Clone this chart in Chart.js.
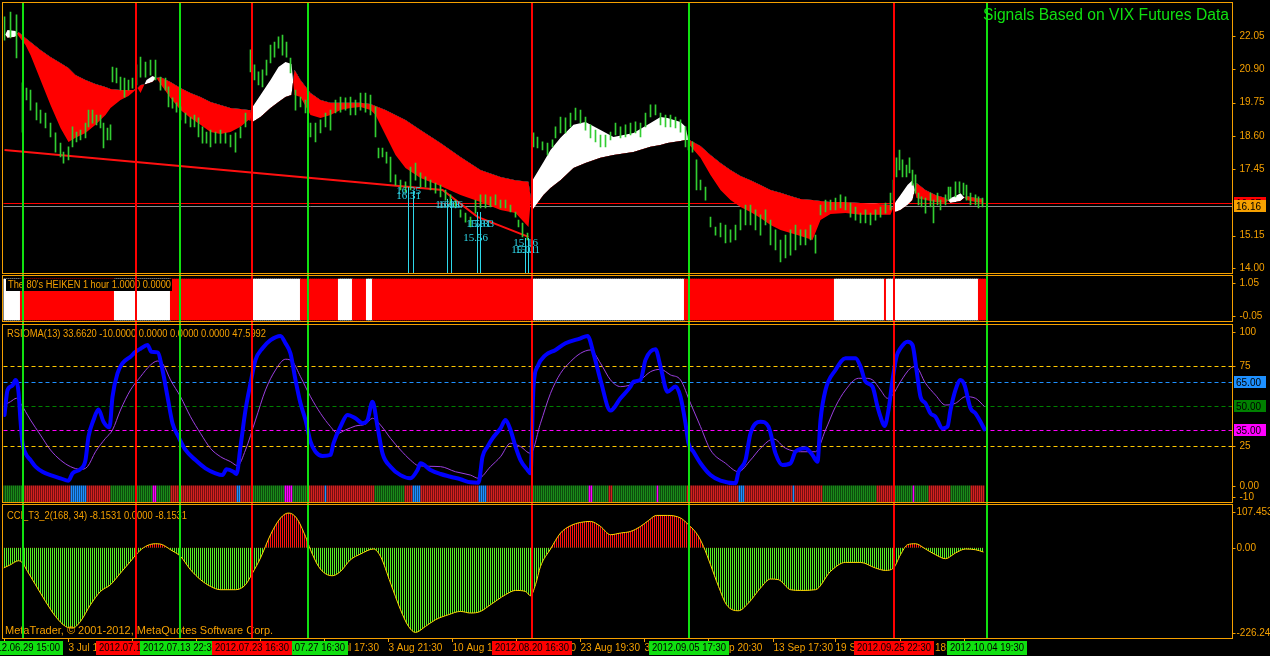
<!DOCTYPE html>
<html>
<head>
<meta charset="utf-8">
<title>VIX Futures Signals</title>
<script src="https://cdn.jsdelivr.net/npm/chart.js@4.4.1/dist/chart.umd.min.js"></script>
<style>
  html, body { margin: 0; padding: 0; background: #000; }
  #wrap { position: relative; width: 1270px; height: 656px; background: #000; overflow: hidden; }
  #wrap canvas { position: absolute; left: 0; }
</style>
</head>
<body>
<div id="wrap">
  <canvas id="mainChart" width="1270" height="275" style="top:0px"></canvas>
  <canvas id="haChart" width="1270" height="49" style="top:275px"></canvas>
  <canvas id="rsiChart" width="1270" height="180" style="top:324px"></canvas>
  <canvas id="cciChart" width="1270" height="152" style="top:504px"></canvas>
</div>
<script>
// ---- data (x = bar index, 2px per bar) ----

// signal lines, in the order their date boxes are painted
const signalBars = [66, 9.5, 88, 152, 124, 264, 342.5, 445, 491.5];
const signalTypes = ['sell', 'buy', 'buy', 'buy', 'sell', 'sell', 'buy', 'sell', 'buy'];
const signalLabels = ['2012.07.10 21:30', '2012.06.29 15:00', '2012.07.13 22:30', '2012.07.27 16:30',
  '2012.07.23 16:30', '2012.08.20 16:30', '2012.09.05 17:30', '2012.09.25 22:30', '2012.10.04 19:30'];

// time axis
const timeTicks = [0, 32, 64, 96, 128, 160, 192, 224, 256, 288, 320, 352, 384.5, 416, 448, 480];
const timeLabels = ['29 Jun 2012', '3 Jul 19:30', '10 Jul 17:30', '16 Jul 15:30', '24 Jul 20:30', '30 Jul 17:30',
  '3 Aug 21:30', '10 Aug 18:30', '17 Aug 16:30', '23 Aug 19:30', '30 Aug 15:30', '6 Sep 20:30',
  '13 Sep 17:30', '19 Sep 18:30', '26 Sep 18:30', '3 Oct 16:30'];

// main panel ticks
const priceTicks = [22.05, 20.90, 19.75, 18.60, 17.45, 15.15, 14.00];
const bidPrice = 16.16;
const askPrice = 16.27;

// price bars [bar, high, low]
const priceBars = [
  [0.5,22.71,21.91],[3.5,22.88,21.98],[6.5,22.78,21.29],[9.5,20.43,18.73],[11.5,20.25,19.84],[13.5,20.18,19.49],
  [16.5,19.74,19.15],[18.5,19.49,19.04],[21,19.39,18.87],[23.5,19.04,18.56],[26,18.70,18.04],[28.5,18.35,17.87],
  [30,18.04,17.66],[32.5,18.22,17.77],[34.5,18.91,18.22],[36.5,18.73,18.39],[38.5,18.80,18.46],[41,19.04,18.53],
  [42.5,19.49,18.91],[44.5,19.49,19.04],[46.5,19.32,18.98],[48.5,19.32,18.87],[50,19.04,18.18],[52,18.87,18.46],
  [53.5,18.98,18.46],[54.5,20.98,20.46],[56.5,20.94,20.43],[58.5,20.63,20.18],[60.5,20.60,19.94],[62.5,20.53,20.18],
  [64.5,20.60,20.25],[66.5,21.05,20.36],[68.5,21.32,20.63],[71,21.15,20.63],[73.5,21.22,20.70],[76,21.22,20.53],
  [78.5,20.63,20.18],[81,20.60,20.18],[82.5,20.29,19.60],[84.5,19.91,19.56],[86.5,19.74,19.42],[88.5,19.60,19.15],
  [91,19.39,19.04],[93.5,19.25,18.91],[95.5,19.32,18.91],[97.5,19.22,18.56],[99.5,18.91,18.35],[101.5,18.73,18.35],
  [103.5,18.80,18.22],[106,18.73,18.35],[108.5,18.80,18.35],[111,18.70,18.35],[113.5,18.63,18.22],[116,18.70,18.04],
  [118.5,18.91,18.53],[121,19.39,18.91],[123.5,21.57,20.81],[125.5,21.05,20.53],[127.5,20.81,20.36],[129.5,20.88,20.29],
  [131.5,21.22,20.70],[133.5,21.74,21.12],[135.5,21.84,21.32],[137.5,22.02,21.63],[139.5,22.08,21.39],[141.5,21.84,21.32],
  [143.5,21.29,20.77],[146,20.18,19.49],[148.5,19.94,19.60],[151,19.84,19.39],[153.5,19.04,18.56],[156,19.04,18.39],
  [158.5,19.15,18.70],[161,19.39,18.91],[163.5,19.49,18.80],[166,19.84,19.39],[168.5,19.94,19.42],[171,19.91,19.49],
  [173.5,19.94,19.32],[176,19.84,19.32],[178.5,20.08,19.49],[181,20.08,19.42],[183.5,20.01,19.32],[186,19.60,18.56],
  [187.5,18.18,17.84],[189.5,18.18,17.87],[191.5,18.04,17.66],[193.5,17.87,17.01],[196,17.25,16.90],[198.5,17.07,16.73],
  [201,17.01,16.66],[203.5,17.52,16.73],[206,17.66,17.07],[208.5,17.32,16.83],[211,17.18,16.83],[213.5,17.07,16.73],
  [216,16.97,16.62],[218.5,16.90,16.49],[221,16.73,16.38],[223.5,16.56,16.21],[226,16.38,16.11],[228.5,16.04,15.79],
  [231,15.93,15.62],[233.5,15.79,15.45],[236,16.38,15.93],[238.5,16.56,16.11],[241,16.56,16.11],[243.5,16.49,16.14],
  [246,16.56,16.21],[248.5,16.38,16.11],[251,16.38,16.11],[253.5,16.21,15.97],[256,15.97,15.79],[257.5,15.69,15.45],
  [259.5,15.59,15.11],[262,15.24,15.00],[265,18.70,18.22],[267,18.56,18.18],[269.5,18.39,18.11],[272,18.35,17.94],
  [274.5,18.46,18.22],[276,18.91,18.53],[278.5,19.25,18.70],[281,19.22,18.70],[283.5,19.39,18.91],[286,19.56,19.15],
  [288.5,19.49,19.04],[291,19.25,18.80],[293.5,18.98,18.53],[296,18.80,18.39],[298.5,18.63,18.22],[301,18.63,18.22],
  [303.5,18.73,18.46],[306,19.04,18.63],[308.5,18.91,18.53],[311,18.98,18.56],[313.5,19.04,18.63],[316,19.08,18.70],
  [318.5,19.04,18.56],[321,19.39,18.91],[323.5,19.67,19.25],[326,19.67,19.32],[328.5,19.39,18.98],[331,19.32,18.91],
  [333.5,19.32,18.91],[336,19.25,18.87],[338.5,19.15,18.73],[341,18.91,18.22],[342.5,18.56,18.11],[344.5,18.39,18.04],
  [346.5,17.77,16.73],[348.5,17.07,16.73],[351,16.83,16.38],[353.5,15.79,15.45],[356,15.45,15.17],[358.5,15.59,15.11],
  [361,15.52,14.90],[363.5,15.35,14.93],[366,15.52,15.00],[368.5,16.04,15.35],[371,16.21,15.52],[373.5,16.21,15.52],
  [376,16.04,15.35],[378.5,15.87,15.17],[381,16.04,15.52],[383.5,15.69,14.83],[386,15.35,14.66],[388.5,15.00,14.24],
  [391,15.17,14.38],[393.5,15.35,14.48],[396,15.52,14.66],[398.5,15.35,14.83],[401,15.35,14.83],[403.5,15.52,15.00],
  [406,15.17,14.55],[408.5,16.21,15.87],[411,16.38,15.97],[413.5,16.38,16.04],[416,16.45,16.04],[418.5,16.56,16.11],
  [421,16.49,16.04],[423.5,16.28,15.79],[426,16.14,15.69],[428.5,15.93,15.59],[431,16.04,15.59],[433.5,15.93,15.52],
  [436,16.04,15.69],[438.5,16.14,15.79],[441,16.28,15.93],[443.5,16.62,16.04],[445,17.07,16.38],[446.5,17.84,17.18],
  [448,18.11,17.42],[449.5,17.77,17.18],[451.5,17.59,17.18],[453,17.84,17.32],[454.5,17.42,16.90],[456,17.25,16.62],
  [457.5,16.62,16.21],[459,16.49,16.14],[461,16.45,15.93],[463.5,16.62,16.14],[465,16.38,15.59],[467,16.62,16.21],
  [468.5,16.38,16.04],[471,16.56,16.21],[472.5,16.83,16.38],[473.5,16.83,16.45],[476,17.01,16.49],[478,17.01,16.62],
  [480,16.97,16.56],[481.5,16.90,16.38],[483.5,16.62,16.21],[486,16.56,16.21],[487.5,16.49,16.11],[489.5,16.45,16.14]
];

// MA ribbon [bar, slow MA, fast MA]
const ribbon = [
  [0.5,22.12,22.05],[2,21.98,22.26],[6,22.02,22.22],[7.5,22.19,22.05],[11,21.98,21.74],[13.5,21.84,21.39],
  [18.5,21.57,20.53],[23.5,21.32,19.67],[28.5,21.12,18.87],[32.5,20.94,18.39],[36,20.70,18.53],[41,20.53,18.70],
  [46,20.39,18.98],[51,20.29,19.32],[53.5,20.22,19.56],[58.5,20.18,19.84],[62.5,20.18,19.98],[65,20.18,20.12],
  [67,20.25,20.25],[68.5,20.36,20.08],[71.5,20.39,20.53],[74.5,20.46,20.67],[76.5,20.60,20.60],[78.5,20.63,20.39],
  [83.5,20.46,19.91],[88.5,20.25,19.49],[93.5,20.08,19.22],[98.5,19.94,18.98],[103.5,19.77,18.73],[108.5,19.67,18.66],
  [113.5,19.56,18.73],[118.5,19.53,18.91],[122.5,19.49,19.15],[123.5,19.49,19.11],[124.5,19.08,19.60],[128.5,19.25,20.01],
  [133.5,19.56,20.53],[137.5,19.77,20.98],[141,19.94,21.15],[144,20.01,21.08],[145.5,20.88,20.01],[148.5,20.53,19.94],
  [153.5,20.08,19.32],[158.5,19.84,19.22],[163.5,19.74,19.32],[168.5,19.74,19.49],[173.5,19.74,19.56],[178.5,19.74,19.60],
  [183.5,19.70,19.49],[186,19.63,19.32],[191,19.49,18.63],[196,19.32,17.94],[201,19.15,17.49],[208.5,18.80,17.14],
  [218.5,18.35,16.87],[228.5,17.87,16.56],[238.5,17.42,16.31],[248.5,17.18,16.04],[256,17.07,15.93],[262.5,17.01,15.45],
  [264.5,16.04,17.07],[270,16.56,17.70],[273.5,16.80,18.11],[278.5,17.07,18.53],[285,17.49,18.98],[291,17.66,19.08],
  [298.5,17.84,18.80],[305,17.94,18.56],[315,18.04,18.70],[323.5,18.22,19.04],[328.5,18.28,19.25],[332,18.35,19.22],
  [338.5,18.42,19.08],[341,18.46,18.91],[343,18.46,18.28],[348.5,18.25,17.84],[353.5,17.94,17.25],[358.5,17.66,16.73],
  [363.5,17.42,16.38],[368.5,17.21,16.14],[373.5,17.07,15.97],[378.5,16.90,15.76],[383.5,16.73,15.52],[388.5,16.63,15.35],
  [393.5,16.52,15.24],[398.5,16.42,15.14],[404.5,16.38,15.00],[408.5,16.35,15.69],[413.5,16.31,15.90],[421,16.31,15.93],
  [428.5,16.28,15.87],[436,16.25,15.87],[443.5,16.21,15.87],[446,15.97,16.31],[448.5,16.04,16.56],[452,16.21,16.90],
  [454.5,16.38,17.07],[456.5,16.97,16.45],[461,16.73,16.38],[466,16.56,16.31],[471,16.45,16.28],[473.5,16.28,16.45],
  [476,16.31,16.52],[478.5,16.35,16.62],[481.5,16.52,16.38],[486,16.45,16.31],[490,16.42,16.28]
];

// trend line [bar, price]
const trendLine = [[0.5,18.11],[219.5,16.73],[237,15.80],[262.5,15.11]];

// fractal lows: marker lines [bar, price] and labels [bar, price, text]
const fractalLines = [[202,16.83],[204.5,16.69],[222,16.42],[223.5,16.42],[236.5,15.97],[238,15.97],[260.5,15.07],[262,15.07]];
const fractalLabels = [[202.5,16.69,'16.35'],[202.5,16.52,'16.31'],[222,16.21,'16.03'],[223.5,16.21,'16.06'],
  [237.5,15.55,'15.81'],[239,15.55,'15.83'],[236,15.07,'15.56'],[261,14.90,'15.16'],[260,14.66,'15.01'],[262,14.66,'15.21']];

// heiken ashi trend switches [bar, 1 = up / 0 = down]
const haSwitches = [[0,1],[8.5,0],[55.5,1],[83.5,0],[124.5,1],[148.5,0],[167.5,1],[174.5,0],[181.5,1],[184.5,0],
  [264.5,1],[340.5,0],[416,1],[440.5,0],[442,1],[487.5,0]];
const haLastBar = 491;
const haTicks = [1.05, -0.05];

// RSIOMA [bar, value]
const rsiMain = [
  [0.5,44.6],[2,60],[4.5,63],[6,66.5],[7.5,59],[8.5,41],[9.5,27],[11,20.6],[13.5,16.4],[16,12.3],[19.5,9.1],[23.5,7],
  [28.5,5],[32.5,3.5],[34.5,8.1],[38.5,10.8],[41,16.4],[42.5,31],[45,41.4],[47.5,48],[50,40.4],[53,36.9],[54.5,56],
  [57,70.6],[59.5,76.9],[63.5,81],[66,84],[68.5,86],[72,88.3],[74,84],[77,83.7],[79.5,72.7],[82,56],[84.5,39.4],
  [87.5,31],[91,22.7],[96,16.4],[101,11.2],[106,8.1],[109.5,7],[111.5,10.6],[115,9.1],[116.5,7.7],[118.5,24.8],
  [121,47.7],[123.5,64.4],[126,79],[129.5,86.3],[133.5,91.4],[138.5,94],[141,89.4],[143.5,83],[146,66.4],[148.5,51.9],
  [151,41.4],[153.5,27.9],[156,21.6],[159.5,19],[163.5,19.6],[165,26.9],[168.5,37.3],[172,44.6],[176,42.5],[179.5,39.4],
  [182,41.4],[184.5,52.9],[187,37.3],[189.5,20.6],[193.5,12.3],[198.5,7],[203.5,5],[207,10.2],[208.5,14.4],[213.5,10.2],
  [218.5,7.7],[223.5,6],[228.5,4.4],[233.5,2.5],[237.5,2.3],[239.5,18.5],[242,24.8],[244.5,30],[248.5,36.2],[251,41.4],
  [253.5,35.2],[256,24.8],[258.5,16.4],[262,10.2],[263.5,8.1],[265,62.3],[267,74.8],[271,82],[276,85.2],[281,89.4],
  [288.5,92.5],[292,94],[295,83.1],[298.5,66.4],[303.5,47.3],[308.5,55],[313.5,62.3],[315,65.4],[318.5,66.5],[321,79],
  [326,85.6],[328.5,74.8],[332,59.1],[336,62.3],[338.5,56],[341,39.4],[342.5,26.9],[345,21.6],[348.5,14.4],[353.5,7],
  [358.5,3.5],[366,1.9],[367.5,9],[371,16.4],[373.5,33.1],[378.5,40.4],[382.5,37.3],[386,20.6],[389.5,13.3],[393.5,14.4],
  [396,21.6],[401,23.8],[404.5,19.6],[407,15.4],[408.5,41.4],[411,60.2],[416,72.7],[421,80],[426,80],[428.5,74.8],
  [431,65.4],[434.5,62.3],[437,49.8],[438.5,43.5],[440.5,37.7],[442.5,47.7],[444.5,66.4],[446.5,81],[448.5,86.3],
  [452,90.4],[454.5,88.3],[456.5,72.7],[458.5,56],[461,51.9],[463.5,45.6],[466,43.5],[469.5,36.2],[472,37.3],[473.5,47.7],
  [476,60.2],[478.5,66.4],[480.5,63.3],[483.5,48.8],[486,45.6],[488.5,40.4],[490.5,35.6]
];
const rsiSignal = [
  [0.5,50.8],[3.5,52.9],[6.5,55],[8.5,51.9],[13.5,41.4],[18.5,32],[23.5,22.7],[28.5,16.4],[33.5,12.3],[38.5,10.6],
  [42,12.3],[46,21.6],[51,30],[54.5,35.2],[58.5,47.7],[63.5,60.2],[68.5,68.5],[73.5,75.8],[77,78.3],[80,75.8],[83.5,66.5],
  [88.5,56],[93.5,43.5],[98.5,33.1],[103.5,23.7],[108.5,18.5],[113.5,15.4],[117,12.9],[121,22.7],[126,41.4],[131,60.2],
  [136,72.7],[141,79.4],[144.5,77.9],[148.5,68.5],[153.5,56],[158.5,45.6],[163.5,37.3],[167,33.1],[171,35.2],[176,37.7],
  [181,38.9],[184.5,42.5],[188.5,38.3],[193.5,30],[198.5,22.7],[203.5,16.4],[207.5,12.9],[218.5,12.3],[226,9.1],
  [233.5,7],[237.5,5],[243.5,12.3],[248.5,18.5],[253.5,26.9],[258.5,24.8],[263.5,20.6],[268.5,39.4],[273.5,58.1],
  [278.5,70.6],[283.5,77.9],[288.5,83.1],[293.5,85.2],[298.5,76.9],[303.5,66.5],[308.5,62.3],[313.5,63.4],[318.5,66.5],
  [323.5,71.6],[328.5,73.1],[333.5,69.6],[338.5,66.5],[343.5,51.9],[348.5,37.3],[353.5,22.7],[361,14.4],[367.5,9.1],
  [373.5,16.4],[378.5,23.8],[385,29.6],[391,23.8],[398.5,21.6],[406,21.6],[411,35.2],[416,49.8],[421,60.2],[427.5,67.5],
  [431,67.5],[434.5,66.5],[438.5,60.2],[442,55],[444.5,57],[448.5,65.4],[453.5,73.8],[456,74.8],[461,64.4],[466,57],
  [471,50.8],[476,51.9],[481,56],[486,55],[490.5,49.8]
];
// RSI state strip [start bar, state]
const rsiZones = [[0,'bull'],[10,'bear'],[34,'low'],[42,'bear'],[54,'bull'],[75,'high'],[77,'bull'],[84,'bear'],
  [117,'low'],[119,'bear'],[124,'bull'],[141,'high'],[145,'bull'],[152,'bear'],[161,'low'],[162,'bear'],[186,'bull'],
  [201,'bear'],[205,'low'],[209,'bear'],[238,'low'],[242,'bear'],[264,'bull'],[293,'high'],[295,'bull'],[303,'bear'],
  [305,'bull'],[327,'high'],[328,'bull'],[342,'bear'],[368,'low'],[371,'bear'],[395,'low'],[396,'bear'],[410,'bull'],
  [437,'bear'],[446,'bull'],[455,'high'],[456,'bull'],[463,'bear'],[474,'bull'],[484,'bear']];
const rsiLastBar = 490;
const rsiLevels = [75, 65, 50, 35, 25];
const rsiTicks = [100, 75, 25, 0, -10];
const rsiTickLabels = ['100', '75', '25', '0.00', '-10'];
const rsiBoxed = [65, 50, 35];

// CCI T3 [bar, value]
const cci = [
  [0,-50.7],[3.5,-42.4],[7.5,-32.4],[9.5,-38.1],[12,-59.2],[16,-92.6],[21,-134.5],[26,-172.1],[31,-197.2],[34.5,-201.2],
  [38.5,-184.6],[43.5,-142.8],[48.5,-109.4],[53.5,-92.6],[58.5,-63.2],[63.5,-34.1],[67,-13],[71,3.5],[76,10.3],[79.5,7.8],
  [83.5,-4.8],[88.5,-21.6],[93.5,-54.9],[98.5,-80],[103.5,-96.8],[108.5,-105.1],[116,-105.1],[121,-92.6],[124.5,-63.2],
  [128.5,-25.6],[133.5,32.9],[138.5,74.8],[142.5,87.3],[146.5,74.8],[151,28.6],[153.5,-4.8],[157.5,-46.7],[161,-65],
  [164.5,-70],[168.5,-59.2],[173.5,-29.9],[178.5,-15.6],[185,-3],[188.5,-21.6],[193.5,-88.3],[198.5,-155.3],[202.5,-197.2],
  [206,-212.2],[211,-197.2],[216,-180.4],[222.5,-167.8],[228.5,-159.6],[233.5,-163.6],[238.5,-159.6],[243.5,-142.8],
  [251,-117.7],[256,-106.9],[261,-109.4],[263.5,-120.2],[266,-92.6],[268.5,-46.7],[273.5,-3],[278.5,37.1],[283.5,55.4],
  [288.5,63.7],[293.5,66.2],[298.5,53.7],[303.5,32.9],[308.5,37.1],[313.5,41.1],[318.5,53.7],[322.5,68.7],[326.5,81.3],
  [332,81.3],[338.5,74.8],[342.5,58],[347,32.9],[350,3.5],[353.5,-42.4],[357.5,-96.8],[361.5,-142.8],[367.5,-157.8],
  [372.5,-138.5],[378.5,-100.9],[383.5,-78.3],[387.5,-80],[393.5,-105.1],[398.5,-106.9],[406,-105.1],[413.5,-59.2],
  [421,-36.6],[428.5,-36.6],[436,-50.7],[441,-56.7],[445,-50.7],[448.5,-17.3],[452,7.8],[456,10.3],[461,-3],[466,-17.3],
  [471,-27.3],[476,-13],[481,-3],[486,-4.8],[490,-10.5]
];
const cciTicks = [107.453, 0, -226.249];
const cciTickLabels = ['107.453', '0.00', '-226.249'];

// ---- styles ----
const ORANGE = '#f5a000';
const FONT = '10px "Liberation Sans", Arial, sans-serif';
const signalColor = { buy: '#10e010', sell: '#ff0000' };
const zoneColor = { bull: '#1a8a1a', bear: '#d42020', low: '#1e90ff', high: '#ff00ff' };
const levelColor = { 75: '#ffc800', 65: '#1e90ff', 50: '#008000', 35: '#ff00ff', 25: '#ffc800' };

function panelOptions(padTop, padBottom, yMin, yMax) {
  return {
    responsive: false,
    animation: false,
    devicePixelRatio: 1,
    events: [],
    layout: { padding: { left: 3.5, right: 37.5, top: padTop, bottom: padBottom } },
    plugins: { legend: { display: false }, tooltip: { enabled: false } },
    scales: {
      x: { type: 'linear', min: 0, max: 614.5, display: false, offset: false },
      y: { type: 'linear', min: yMin, max: yMax, display: false }
    }
  };
}

function drawFrame(chart) {
  const { ctx, chartArea: a } = chart;
  const x0 = Math.floor(a.left) - 0.5;
  const x1 = Math.ceil(a.right) - 0.5;
  ctx.save();
  ctx.strokeStyle = ORANGE;
  ctx.lineWidth = 1;
  ctx.strokeRect(x0, a.top - 0.5, x1 - x0, a.bottom - a.top + 1);
  ctx.restore();
}

function drawSignals(chart, y0, y1) {
  const { ctx, scales: { x } } = chart;
  ctx.save();
  signalBars.forEach((b, i) => {
    ctx.fillStyle = signalColor[signalTypes[i]];
    ctx.fillRect(Math.round(x.getPixelForValue(b)) - 1, y0, 2, y1 - y0);
  });
  ctx.restore();
}

function drawRightTicks(chart, values, labels, dx) {
  const { ctx, chartArea: a, scales: { y } } = chart;
  const right = Math.ceil(a.right) - 0.5;
  ctx.save();
  ctx.font = FONT;
  ctx.fillStyle = ORANGE;
  ctx.strokeStyle = ORANGE;
  ctx.textBaseline = 'middle';
  values.forEach((v, i) => {
    const py = y.getPixelForValue(v);
    const ty = Math.min(Math.max(py, a.top + 7), a.bottom - 5);
    ctx.beginPath();
    ctx.moveTo(right, Math.round(ty) + 0.5);
    ctx.lineTo(right + 3, Math.round(ty) + 0.5);
    ctx.stroke();
    ctx.fillText(labels[i], right + (dx || 7), ty);
  });
  ctx.restore();
}

function drawBoxTick(chart, v, text, bg) {
  const { ctx, chartArea: a, scales: { y } } = chart;
  const py = y.getPixelForValue(v);
  const right = Math.ceil(a.right);
  ctx.save();
  ctx.fillStyle = bg;
  ctx.fillRect(right + 1, Math.round(py) - 6, 32, 12);
  ctx.fillStyle = '#000';
  ctx.font = FONT;
  ctx.textBaseline = 'middle';
  ctx.fillText(text, right + 3, py + 0.5, 29);
  ctx.restore();
}

function drawText(ctx, text, x, y, color, font, maxW) {
  ctx.save();
  ctx.font = font || FONT;
  ctx.fillStyle = color || ORANGE;
  ctx.textBaseline = 'middle';
  ctx.fillText(text, x, y, maxW);
  ctx.restore();
}

function stripes(canvasId, color) {
  const c = document.createElement('canvas');
  c.width = 2; c.height = 1;
  const g = c.getContext('2d');
  g.fillStyle = color;
  g.fillRect(0, 0, 1, 1);
  return document.getElementById(canvasId).getContext('2d').createPattern(c, 'repeat');
}

// ---- main price panel ----
const mainPlugin = {
  id: 'mainPanel',
  beforeDatasetsDraw(chart) {
    const { ctx, chartArea: a, scales: { y } } = chart;
    ctx.save();
    ctx.lineWidth = 1;
    [[askPrice, '#ff0000'], [bidPrice, '#8c8c8c']].forEach(([p, c]) => {
      const py = Math.round(y.getPixelForValue(p)) + 0.5;
      ctx.strokeStyle = c;
      ctx.beginPath(); ctx.moveTo(a.left, py); ctx.lineTo(a.right, py); ctx.stroke();
    });
    ctx.restore();
  },
  afterDatasetsDraw(chart) {
    const { ctx, chartArea: a, scales: { x, y } } = chart;
    ctx.save();
    ctx.strokeStyle = '#2ed8ea';
    ctx.lineWidth = 1;
    fractalLines.forEach(([b, p]) => {
      const px = Math.round(x.getPixelForValue(b)) + 0.5;
      ctx.beginPath(); ctx.moveTo(px, y.getPixelForValue(p)); ctx.lineTo(px, a.bottom); ctx.stroke();
    });
    ctx.font = '11px "Liberation Serif", serif';
    ctx.fillStyle = '#2ed8ea';
    ctx.textAlign = 'center';
    ctx.textBaseline = 'middle';
    fractalLabels.forEach(([b, p, t]) => ctx.fillText(t, x.getPixelForValue(b), y.getPixelForValue(p)));
    ctx.restore();
    drawText(ctx, 'Signals Based on VIX Futures Data', 983, 16, '#10e010', '16px "Liberation Sans", Arial, sans-serif', 246);
    drawSignals(chart, a.top, chart.height);
  },
  afterDraw(chart) {
    drawFrame(chart);
    drawRightTicks(chart, priceTicks, priceTicks.map(v => v.toFixed(2)));
    drawBoxTick(chart, askPrice, askPrice.toFixed(2), '#ff0000');
    drawBoxTick(chart, bidPrice, bidPrice.toFixed(2), ORANGE);
  }
};

new Chart(document.getElementById('mainChart'), {
  type: 'line',
  data: {
    datasets: [
      { label: 'Slow MA', data: ribbon.map(r => ({ x: r[0], y: r[1] })), borderColor: 'rgba(0,0,0,0)', borderWidth: 0,
        pointRadius: 0, tension: 0, fill: false, order: 3 },
      { label: 'Fast MA', data: ribbon.map(r => ({ x: r[0], y: r[2] })), borderColor: 'rgba(0,0,0,0)', borderWidth: 0,
        pointRadius: 0, tension: 0, fill: { target: 0, above: '#ffffff', below: '#ff0000' }, order: 2 },
      { label: 'Trend', data: trendLine.map(r => ({ x: r[0], y: r[1] })), borderColor: '#ff1010', borderWidth: 2,
        pointRadius: 0, tension: 0, fill: false, order: 1 },
      { type: 'bar', label: 'VIX', data: priceBars.map(r => ({ x: r[0], y: [r[2], r[1]] })),
        backgroundColor: '#32cd32', barThickness: 1, order: 0 }
    ]
  },
  options: panelOptions(3, 2, 13.861, 23.190),
  plugins: [mainPlugin]
});

// ---- heiken ashi panel ----
const haData = [];
const haColors = [];
for (let b = 0; b <= haLastBar; b++) {
  let up = 1;
  haSwitches.forEach(([s, t]) => { if (b >= s) up = t; });
  haData.push({ x: b, y: [-0.18, 1.18] });
  haColors.push(up ? '#ffffff' : '#ff0000');
}

const haPlugin = {
  id: 'haPanel',
  afterDatasetsDraw(chart) {
    const { ctx } = chart;
    ctx.save();
    ctx.fillStyle = '#000';
    ctx.fillRect(6, 4, 166, 12);
    ctx.restore();
    drawText(ctx, "The 80's HEIKEN 1 hour 1.0000 0.0000", 8, 10.5, ORANGE, FONT, 163);
    drawSignals(chart, 0, chart.height);
  },
  afterDraw(chart) {
    drawFrame(chart);
    drawRightTicks(chart, haTicks, haTicks.map(v => v.toFixed(2)));
  }
};

new Chart(document.getElementById('haChart'), {
  type: 'bar',
  data: { datasets: [{ label: 'HEIKEN', data: haData, backgroundColor: haColors, barThickness: 2.4 }] },
  options: panelOptions(1, 3, -0.217, 1.283),
  plugins: [haPlugin]
});

// ---- RSIOMA panel ----
const rsiStrip = [];
const rsiStripColors = [];
for (let b = 0; b <= rsiLastBar; b++) {
  let z = 'bull';
  rsiZones.forEach(([s, t]) => { if (b >= s) z = t; });
  rsiStrip.push({ x: b, y: [-9.8, 0.3] });
  rsiStripColors.push(zoneColor[z]);
}

const rsiPlugin = {
  id: 'rsiPanel',
  beforeDatasetsDraw(chart) {
    const { ctx, chartArea: a, scales: { y } } = chart;
    ctx.save();
    ctx.lineWidth = 1;
    ctx.setLineDash([4, 3]);
    rsiLevels.forEach(v => {
      const py = Math.round(y.getPixelForValue(v)) + 0.5;
      ctx.strokeStyle = levelColor[v];
      ctx.beginPath(); ctx.moveTo(a.left, py); ctx.lineTo(a.right, py); ctx.stroke();
    });
    ctx.restore();
  },
  afterDatasetsDraw(chart) {
    drawText(chart.ctx, 'RSIOMA(13) 33.6620 -10.0000 0.0000 0.0000 0.0000 47.5992', 7, 10, ORANGE, FONT, 259);
    drawSignals(chart, 0, chart.height);
  },
  afterDraw(chart) {
    drawFrame(chart);
    drawRightTicks(chart, rsiTicks, rsiTickLabels);
    rsiBoxed.forEach(v => drawBoxTick(chart, v, v.toFixed(2), levelColor[v]));
  }
};

new Chart(document.getElementById('rsiChart'), {
  type: 'line',
  data: {
    datasets: [
      { label: 'RSIOMA', data: rsiMain.map(r => ({ x: r[0], y: r[1] })), borderColor: '#0000ff', borderWidth: 4,
        borderCapStyle: 'round', borderJoinStyle: 'round', pointRadius: 0, cubicInterpolationMode: 'monotone', order: 0 },
      { label: 'Signal', data: rsiSignal.map(r => ({ x: r[0], y: r[1] })), borderColor: '#9b3fe0', borderWidth: 1,
        pointRadius: 0, cubicInterpolationMode: 'monotone', order: 1 },
      { type: 'bar', label: 'Trend', data: rsiStrip, backgroundColor: rsiStripColors, barThickness: 1, order: 2 }
    ]
  },
  options: panelOptions(1, 2, -9.8, 100.8),
  plugins: [rsiPlugin]
});

// ---- CCI panel + time axis ----
const cciPlugin = {
  id: 'cciPanel',
  afterDatasetsDraw(chart) {
    const { ctx, chartArea: a } = chart;
    drawText(ctx, 'CCI_T3_2(168, 34) -8.1531 0.0000 -8.1531', 7, 12, ORANGE, FONT, 180);
    drawText(ctx, 'MetaTrader, \u00a9 2001-2012, MetaQuotes Software Corp.', 5, a.bottom - 7, ORANGE,
      '11px "Liberation Sans", Arial, sans-serif', 271);
    drawSignals(chart, 0, a.bottom);
  },
  afterDraw(chart) {
    const { ctx, chartArea: a, scales: { x } } = chart;
    drawFrame(chart);
    drawRightTicks(chart, cciTicks, cciTickLabels, 4);
    ctx.save();
    ctx.font = FONT;
    ctx.textBaseline = 'middle';
    ctx.strokeStyle = ORANGE;
    ctx.fillStyle = ORANGE;
    timeTicks.forEach((b, i) => {
      const px = Math.round(x.getPixelForValue(b)) + 0.5;
      ctx.beginPath(); ctx.moveTo(px, a.bottom); ctx.lineTo(px, a.bottom + 4); ctx.stroke();
      ctx.fillText(timeLabels[i], px, a.bottom + 10);
    });
    ctx.textAlign = 'center';
    signalBars.forEach((b, i) => {
      const px = Math.round(x.getPixelForValue(b));
      ctx.fillStyle = signalColor[signalTypes[i]];
      ctx.fillRect(px - 40, a.bottom + 3, 80, 14);
      ctx.fillStyle = '#000';
      ctx.fillText(signalLabels[i], px, a.bottom + 10.5, 74);
    });
    ctx.restore();
  }
};

new Chart(document.getElementById('cciChart'), {
  type: 'line',
  data: {
    datasets: [{
      label: 'CCI T3', data: cci.map(r => ({ x: r[0], y: r[1] })), borderColor: '#ffd800', borderWidth: 1,
      pointRadius: 0, cubicInterpolationMode: 'monotone',
      fill: { target: 'origin', above: stripes('cciChart', '#ff1010'), below: stripes('cciChart', '#55ee22') }
    }]
  },
  options: panelOptions(1, 18, -226.249, 107.453),
  plugins: [cciPlugin]
});
</script>
</body>
</html>
